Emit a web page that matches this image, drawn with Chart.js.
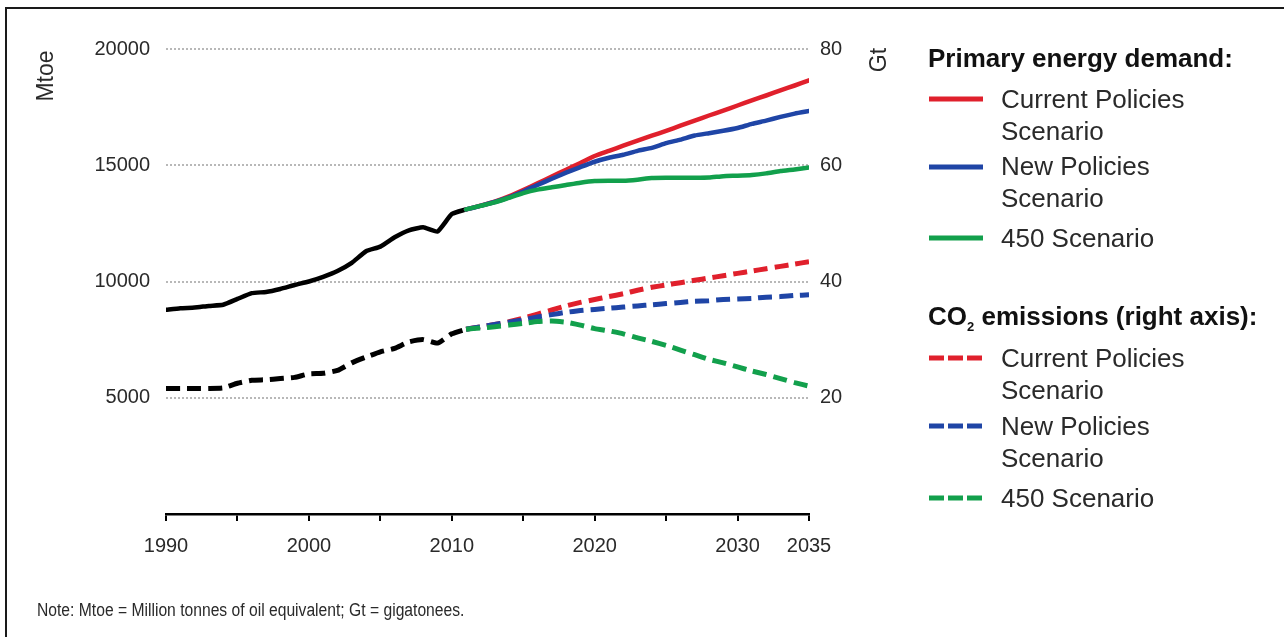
<!DOCTYPE html>
<html><head><meta charset="utf-8">
<script src="https://cdn.jsdelivr.net/npm/chart.js@4/dist/chart.umd.min.js"></script>
<style>
html,body{margin:0;padding:0;background:#fff;}
#wrap{position:relative;width:1284px;height:637px;overflow:hidden;font-family:"Liberation Sans",Arial,sans-serif;background:#fff;}
#cv{position:absolute;left:0;top:0;width:1284px;height:637px;}
.frame{position:absolute;left:5px;top:7px;width:1400px;height:800px;border-left:2px solid #1a1a1a;border-top:2px solid #1a1a1a;}
.t{position:absolute;white-space:nowrap;color:#2a2a2a;font-size:26px;line-height:32px;}
.h{position:absolute;white-space:nowrap;color:#111;font-size:26px;line-height:32px;font-weight:bold;}
.rot{position:absolute;white-space:nowrap;color:#2a2a2a;font-size:23px;line-height:26px;transform:translate(-50%,-50%) rotate(-90deg);}
.sw{position:absolute;left:929px;width:54px;height:10px;}
.note{position:absolute;left:37px;top:598px;font-size:18px;line-height:24px;color:#2a2a2a;white-space:nowrap;transform:scaleX(0.87);transform-origin:left center;}
sub{font-size:13px;vertical-align:-6px;line-height:0;}
</style>
</head><body>
<div id="wrap">
  <div id="cvbox" style="position:absolute;left:0;top:0;width:1284px;height:637px;"><canvas id="cv"></canvas></div>
  <div class="frame"></div>
  <div class="rot" style="left:45px;top:76px;">Mtoe</div>
  <div class="rot" style="left:878px;top:60px;">Gt</div>

  <div class="h" style="left:928px;top:42px;">Primary energy demand:</div>
  <svg class="sw" style="top:94px;"><line x1="0" y1="5" x2="54" y2="5" stroke="#e0202c" stroke-width="5"/></svg>
  <div class="t" style="left:1001px;top:83px;">Current Policies<br>Scenario</div>
  <svg class="sw" style="top:162px;"><line x1="0" y1="5" x2="54" y2="5" stroke="#1f45a6" stroke-width="5"/></svg>
  <div class="t" style="left:1001px;top:150px;">New Policies<br>Scenario</div>
  <svg class="sw" style="top:233px;"><line x1="0" y1="5" x2="54" y2="5" stroke="#12a04c" stroke-width="5"/></svg>
  <div class="t" style="left:1001px;top:222px;">450 Scenario</div>

  <div class="h" style="left:928px;top:300px;">CO<sub>2</sub> emissions (right axis):</div>
  <svg class="sw" style="top:353px;"><line x1="0" y1="5" x2="54" y2="5" stroke="#e0202c" stroke-width="5" stroke-dasharray="15 4"/></svg>
  <div class="t" style="left:1001px;top:342px;">Current Policies<br>Scenario</div>
  <svg class="sw" style="top:421px;"><line x1="0" y1="5" x2="54" y2="5" stroke="#1f45a6" stroke-width="5" stroke-dasharray="15 4"/></svg>
  <div class="t" style="left:1001px;top:410px;">New Policies<br>Scenario</div>
  <svg class="sw" style="top:493px;"><line x1="0" y1="5" x2="54" y2="5" stroke="#12a04c" stroke-width="5" stroke-dasharray="15 4"/></svg>
  <div class="t" style="left:1001px;top:482px;">450 Scenario</div>

  <div class="note">Note: Mtoe = Million tonnes of oil equivalent; Gt = gigatonees.</div>
</div>
<script>
// ---- data ----
const histYears = [1990,1991,1992,1993,1994,1995,1996,1997,1998,1999,2000,2001,2002,2003,2004,2005,2006,2007,2008,2009,2010,2011];
const projYears = [2011,2012,2013,2014,2015,2016,2017,2018,2019,2020,2021,2022,2023,2024,2025,2026,2027,2028,2029,2030,2031,2032,2033,2034,2035];

// Primary energy demand (Mtoe, left axis)
const energyHist    = [8780,8850,8880,8950,9000,9250,9500,9550,9680,9850,10000,10200,10450,10800,11300,11500,11900,12200,12330,12150,12900,13100];
const energyCurrent = [13100,13260,13430,13660,13930,14220,14520,14810,15100,15400,15620,15840,16060,16270,16480,16700,16920,17140,17350,17570,17790,18000,18220,18430,18650];
const energyNew     = [13100,13250,13420,13620,13870,14150,14420,14680,14920,15150,15320,15450,15620,15750,15950,16100,16280,16380,16480,16600,16780,16920,17080,17220,17330];
const energy450     = [13100,13250,13400,13600,13800,13950,14050,14150,14250,14320,14330,14330,14380,14450,14460,14460,14460,14470,14530,14550,14580,14650,14750,14820,14900];

// CO2 emissions (Gt, right axis)
const co2Hist    = [21.6,21.6,21.6,21.6,21.7,22.5,23.0,23.1,23.3,23.5,24.1,24.2,24.7,26.0,27.0,27.9,28.5,29.6,30.0,29.4,31.0,31.8];
const co2Current = [31.8,32.2,32.6,33.1,33.7,34.4,35.1,35.8,36.4,36.9,37.4,37.9,38.5,39.0,39.4,39.8,40.2,40.6,41.0,41.4,41.8,42.2,42.6,43.0,43.4];
const co2New     = [31.8,32.2,32.6,33.0,33.4,33.9,34.3,34.7,35.0,35.2,35.4,35.6,35.8,36.0,36.2,36.4,36.6,36.7,36.9,37.0,37.1,37.3,37.4,37.6,37.7];
const co2450     = [31.8,32.0,32.2,32.5,32.8,33.1,33.2,33.0,32.5,31.9,31.5,31.0,30.3,29.7,29.0,28.2,27.4,26.6,26.0,25.3,24.6,24.0,23.3,22.6,22.0];

const xTickLabels = [1990,2000,2010,2020,2030,2035];
const leftTicks = [5000,10000,15000,20000];
const rightTicks = [20,40,60,80];

const RED = '#e0202c', BLUE = '#1f45a6', GREEN = '#12a04c', BLACK = '#000000';
const pts = (xs, ys) => xs.map((x, i) => ({x: x, y: ys[i]}));
const DASH = [14, 7];

function solid(data, color, order) {
  return {data, borderColor: color, borderWidth: 4.5, pointRadius: 0, fill: false, yAxisID: 'y', order, tension: 0.15, borderCapStyle: 'round', borderJoinStyle: 'round'};
}
function dashed(data, color, order) {
  return {data, borderColor: color, borderWidth: 5, borderDash: DASH, pointRadius: 0, fill: false, yAxisID: 'y1', order, tension: 0.15};
}

const tickFont = {family: '"Liberation Sans", Arial, sans-serif', size: 20};

new Chart(document.getElementById('cv'), {
  type: 'line',
  data: {
    datasets: [
      solid(pts(histYears, energyHist), BLACK, 7),
      dashed(pts(histYears, co2Hist), BLACK, 8),
      solid(pts(projYears, energyCurrent), RED, 5),
      dashed(pts(projYears, co2Current), RED, 6),
      solid(pts(projYears, energyNew), BLUE, 3),
      dashed(pts(projYears, co2New), BLUE, 4),
      solid(pts(projYears, energy450), GREEN, 1),
      dashed(pts(projYears, co2450), GREEN, 2)
    ]
  },
  options: {
    responsive: true,
    maintainAspectRatio: false,
    animation: false,
    layout: {padding: {top: 49, left: 0, right: 0, bottom: 0}},
    plugins: {legend: {display: false}, tooltip: {enabled: false}},
    scales: {
      x: {
        type: 'linear', min: 1990, max: 2035,
        afterFit: s => { s.height = 123; },
        afterBuildTicks: s => { const t = []; for (let v = 1990; v <= 2035; v += 5) t.push({value: v}); s.ticks = t; },
        ticks: {autoSkip: false, maxRotation: 0, padding: 13, color: '#2a2a2a', font: tickFont,
          callback: v => xTickLabels.includes(v) ? String(v) : ''},
        grid: {drawOnChartArea: false, drawTicks: true, tickLength: 7, color: '#000', lineWidth: 2},
        border: {display: true, color: '#000', width: 2.5}
      },
      y: {
        position: 'left', min: 0, max: 20000,
        afterFit: s => { s.width = 166; },
        afterBuildTicks: s => { s.ticks = [0].concat(leftTicks).map(v => ({value: v})); },
        ticks: {padding: 16, color: '#2a2a2a', font: tickFont, callback: v => v === 0 ? '' : String(v)},
        grid: {drawTicks: false, lineWidth: 2, color: c => (c.tick && c.tick.value === 0) ? 'rgba(0,0,0,0)' : '#b8b8b8'},
        border: {display: false, dash: [2, 2]}
      },
      y1: {
        position: 'right', min: 0, max: 80,
        afterFit: s => { s.width = 475; },
        afterBuildTicks: s => { s.ticks = [0].concat(rightTicks).map(v => ({value: v})); },
        ticks: {padding: 11, color: '#2a2a2a', font: tickFont, callback: v => v === 0 ? '' : String(v)},
        grid: {display: false, drawTicks: false, drawOnChartArea: false},
        border: {display: false}
      }
    }
  }
});
</script>
</body></html>
